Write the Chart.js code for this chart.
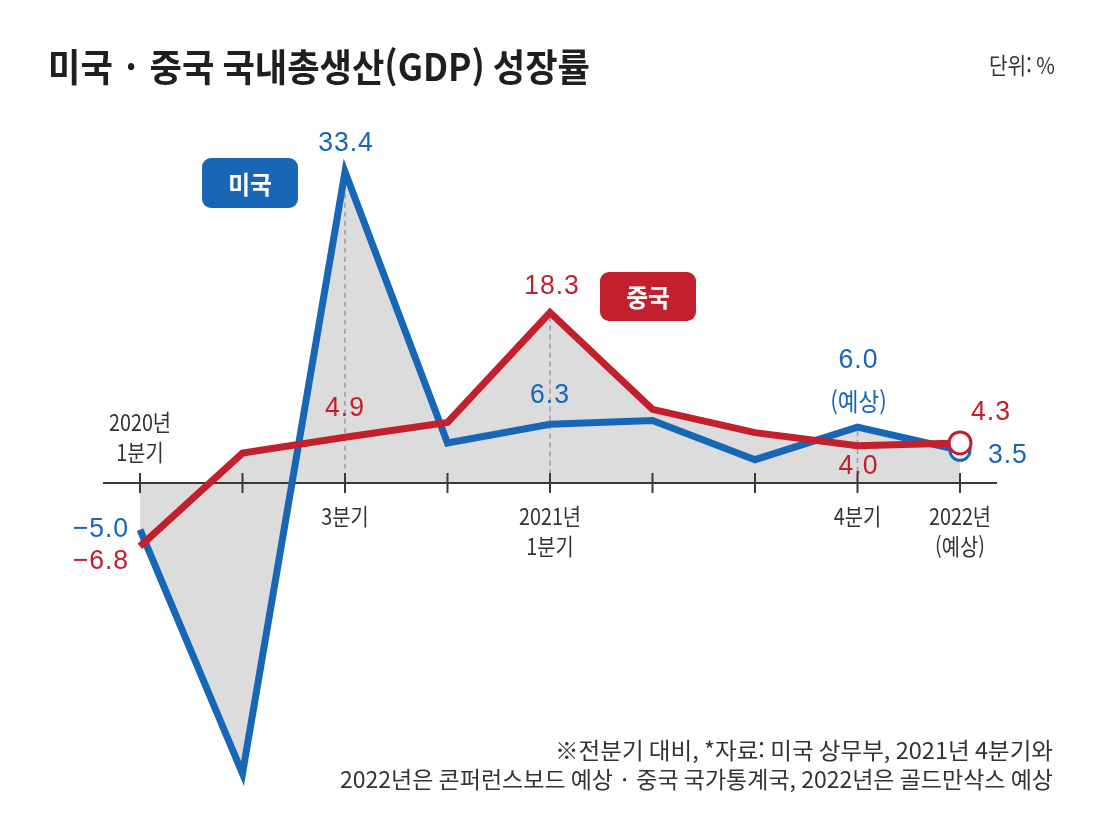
<!DOCTYPE html>
<html lang="ko">
<head>
<meta charset="utf-8">
<title>미국 · 중국 국내총생산(GDP) 성장률</title>
<script src="https://cdn.jsdelivr.net/npm/chart.js@4.4.1/dist/chart.umd.min.js"></script>
<style>
    html, body { margin: 0; padding: 0; background: #fff; overflow: hidden; }
    #chart { display: block; }
</style>
</head>
<body>
<canvas id="chart" width="1100" height="840"></canvas>
<script>
const quarters = ['2020년 1분기', '2분기', '3분기', '4분기', '2021년 1분기', '2분기', '3분기', '4분기', '2022년 (예상)'];
const usGrowth = [-5.0, -31.2, 33.4, 4.3, 6.3, 6.7, 2.5, 6.0, 3.5];
const chinaGrowth = [-6.8, 3.2, 4.9, 6.5, 18.3, 7.9, 5.4, 4.0, 4.3];

// text under the zero line at each quarter (first one sits above it)
const tickLabels = [['2020년', '1분기'], [], ['3분기'], [], ['2021년', '1분기'], [], [], ['4분기'], ['2022년', '(예상)']];
const usLabels = ['−5.0', '', '33.4', '', '6.3', '', '', '6.0', '3.5'];
const chinaLabels = ['−6.8', '', '4.9', '', '18.3', '', '', '4.0', '4.3'];
const guideAt = [2, 4, 7];

const BLUE = '#1866b6';
const RED = '#c2202d';
const FILL = '#dcdcdc';
const KR = '"Noto Sans CJK KR", "Noto Sans", sans-serif';
const NUM = '"Liberation Sans", Arial, sans-serif';

// where each value label goes relative to its point
const usPlace = {
    0: {dx: -11, dy: 0, align: 'right'},
    2: {dx: 1, dy: -29, align: 'center'},
    4: {dx: 0, dy: -29, align: 'center'},
    7: {dx: 1, dy: -67, align: 'center', sub: '(예상)'},
    8: {dx: 28, dy: 5, align: 'left'},
};
const chinaPlace = {
    0: {dx: -11, dy: 15, align: 'right'},
    2: {dx: 0, dy: -29, align: 'center'},
    4: {dx: 2, dy: -26, align: 'center'},
    7: {dx: 1, dy: 21, align: 'center'},
    8: {dx: 31, dy: -31, align: 'center'},
};

function text(ctx, str, x, y, font, color, align, sx) {
    ctx.save();
    ctx.font = font;
    ctx.fillStyle = color;
    ctx.textAlign = align || 'left';
    ctx.textBaseline = 'middle';
    ctx.translate(x, y);
    ctx.scale(sx || 1, 1);
    ctx.fillText(str, 0, 0);
    ctx.restore();
}

// squeeze a line so it covers a given width, like the condensed print type
function fitText(ctx, str, left, right, y, font, color) {
    ctx.save();
    ctx.font = font;
    const w = ctx.measureText(str).width;
    ctx.restore();
    text(ctx, str, left, y, font, color, 'left', (right - left) / w);
}

function badge(ctx, label, x, y, w, h, color) {
    ctx.save();
    ctx.fillStyle = color;
    ctx.beginPath();
    ctx.roundRect(x, y, w, h, 9);
    ctx.fill();
    ctx.restore();
    text(ctx, label, x + w / 2, y + h / 2 + 1, `bold 25px ${KR}`, '#fff', 'center', 0.95);
}

const overlay = {
    id: 'overlay',
    beforeDatasetsDraw(chart) {
        const {ctx, scales: {x, y}} = chart;
        const y0 = y.getPixelForValue(0);

        ctx.save();
        ctx.strokeStyle = '#9b9b9b';
        ctx.lineWidth = 1.5;
        ctx.setLineDash([5, 4]);
        for (const i of guideAt) {
            const px = x.getPixelForValue(i);
            const top = y.getPixelForValue(Math.max(usGrowth[i], chinaGrowth[i]));
            ctx.beginPath();
            ctx.moveTo(px, top + 4);
            ctx.lineTo(px, y0);
            ctx.stroke();
        }
        ctx.restore();

        // zero line with a tick at every quarter
        ctx.save();
        ctx.strokeStyle = '#3a3a3a';
        ctx.lineWidth = 2;
        ctx.beginPath();
        ctx.moveTo(x.getPixelForValue(0) - 37, y0);
        ctx.lineTo(x.getPixelForValue(quarters.length - 1) + 37, y0);
        for (let i = 0; i < quarters.length; i++) {
            const px = x.getPixelForValue(i);
            ctx.moveTo(px, y0 - 10);
            ctx.lineTo(px, y0 + 10);
        }
        ctx.stroke();
        ctx.restore();

        tickLabels.forEach((lines, i) => {
            const px = x.getPixelForValue(i);
            lines.forEach((line, k) => {
                const py = i === 0 ? y0 - 61 + k * 30 : y0 + 33 + k * 30;
                text(ctx, line, px, py, `23px ${KR}`, '#333', 'center', 0.86);
            });
        });
    },
    afterDatasetsDraw(chart) {
        const {ctx} = chart;
        const groups = [
            {meta: chart.getDatasetMeta(0), labels: usLabels, place: usPlace, color: BLUE},
            {meta: chart.getDatasetMeta(1), labels: chinaLabels, place: chinaPlace, color: RED},
        ];
        for (const g of groups) {
            g.labels.forEach((lab, i) => {
                if (!lab) return;
                const pt = g.meta.data[i];
                const p = g.place[i];
                ctx.save();
                ctx.letterSpacing = '1px';
                text(ctx, lab, pt.x + p.dx, pt.y + p.dy, `500 28px ${NUM}`, g.color, p.align, 0.95);
                ctx.restore();
                if (p.sub) {
                    text(ctx, p.sub, pt.x + p.dx, pt.y + p.dy + 41, `25px ${KR}`, g.color, p.align, 0.9);
                }
            });
        }

        badge(ctx, '미국', 202, 158, 96, 50, BLUE);
        badge(ctx, '중국', 600, 272, 96, 49, RED);

        fitText(ctx, '미국 · 중국 국내총생산(GDP) 성장률', 48, 590, 67, `bold 38px ${KR}`, '#1f1f1f');
        text(ctx, '단위: %', 1055, 65, `23px ${KR}`, '#333', 'right', 0.88);

        fitText(ctx, '※전분기 대비, *자료: 미국 상무부, 2021년 4분기와', 555, 1053, 750, `23px ${KR}`, '#333');
        fitText(ctx, '2022년은 콘퍼런스보드 예상 · 중국 국가통계국, 2022년은 골드만삭스 예상', 340, 1053, 779, `23px ${KR}`, '#333');
    }
};

const lastIdx = quarters.length - 1;

new Chart(document.getElementById('chart'), {
    type: 'line',
    data: {
        labels: quarters,
        datasets: [
            {
                label: '미국',
                data: usGrowth,
                borderColor: BLUE,
                borderWidth: 7,
                borderJoinStyle: 'miter',
                backgroundColor: FILL,
                fill: 'origin',
                pointRadius: c => c.dataIndex === lastIdx ? 10 : 0,
                pointBorderWidth: 3,
                pointBorderColor: BLUE,
                pointBackgroundColor: '#fff',
                clip: false,
                order: 2,
            },
            {
                label: '중국',
                data: chinaGrowth,
                borderColor: RED,
                borderWidth: 7,
                borderJoinStyle: 'miter',
                backgroundColor: FILL,
                fill: 'origin',
                pointRadius: c => c.dataIndex === lastIdx ? 11 : 0,
                pointBorderWidth: 3,
                pointBorderColor: RED,
                pointBackgroundColor: '#fff',
                clip: false,
                order: 1,
            },
        ]
    },
    options: {
        responsive: false,
        animation: false,
        layout: {padding: {left: 140, right: 140, top: 129, bottom: 31}},
        scales: {
            x: {type: 'category', display: false, offset: false},
            y: {min: -35, max: 38, display: false},
        },
        plugins: {
            legend: {display: false},
            tooltip: {enabled: false},
            filler: {drawTime: 'beforeDatasetsDraw'},
        },
    },
    plugins: [overlay],
});
</script>
</body>
</html>
